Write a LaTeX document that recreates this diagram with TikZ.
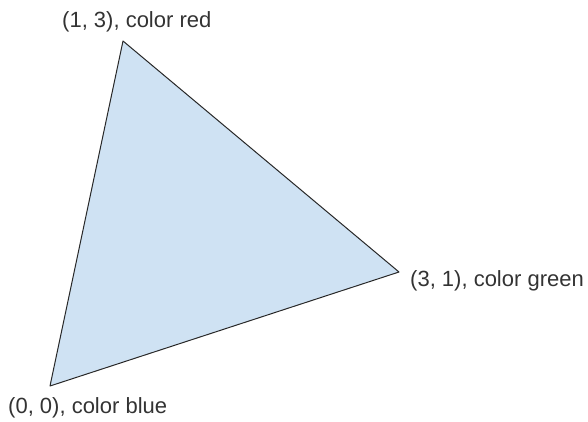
\documentclass[tikz,border=0pt]{standalone}
\usepackage{fontspec}
\setmainfont{Liberation Sans}

\begin{document}
\begin{tikzpicture}[x=1pt, y=-1pt,
    vlabel/.style={anchor=base west, inner sep=0pt, text=labelgray,
      font=\fontsize{22}{26}\selectfont}]
  \definecolor{labelgray}{RGB}{51,51,51}
  \definecolor{faceblue}{RGB}{207,226,243}
  \definecolor{edgegray}{RGB}{40,40,40}

  \useasboundingbox (0,0) rectangle (588,421);

  \coordinate (vred) at (123,41);
  \coordinate (vgreen) at (399,272);
  \coordinate (vblue) at (50,386);

  \filldraw[fill=faceblue, draw=edgegray, line width=1pt, line join=round]
    (vred) -- (vgreen) -- (vblue) -- cycle;

  \node[vlabel] (lred) at (62,27) {(1, 3), color red};
  \node[vlabel] (lgreen) at (410,286) {(3, 1), color green};
  \node[vlabel] (lblue) at (8,413) {(0, 0), color blue};
\end{tikzpicture}
\end{document}
